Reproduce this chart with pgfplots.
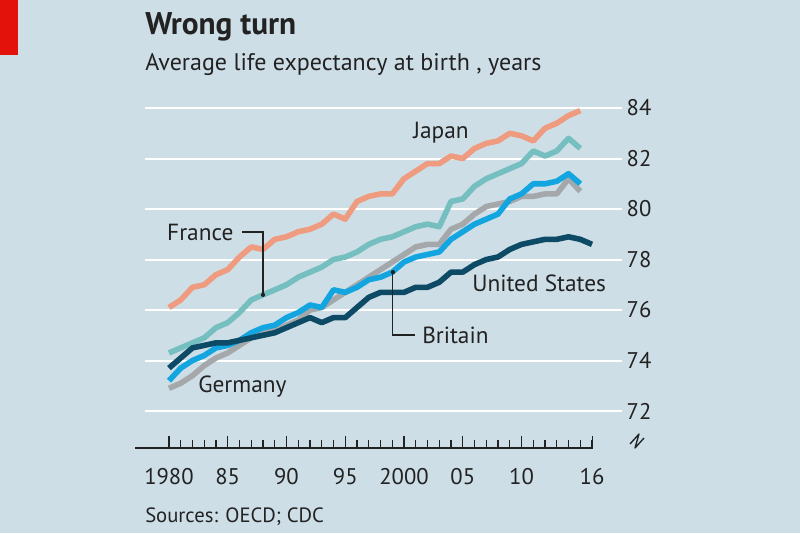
\documentclass[border=0pt]{standalone}
\usepackage{fontspec}
\setmainfont{PT Sans}
\usepackage{pgfplots}
\pgfplotsset{compat=1.18}
\usepackage{pgfplotstable}

\definecolor{bg}{HTML}{CEDEE7}
\definecolor{econred}{HTML}{E3120B}
\definecolor{japan}{HTML}{EE9B7F}
\definecolor{france}{HTML}{76BFC0}
\definecolor{germany}{HTML}{A5A8AB}
\definecolor{britain}{HTML}{12A5DF}
\definecolor{usa}{HTML}{0D4A66}
\definecolor{ink}{HTML}{222222}

% life expectancy at birth, years
\pgfplotstableread{
year japan france germany britain us
1980 76.1 74.3 72.9 73.2 73.7
1981 76.4 74.5 73.1 73.7 74.1
1982 76.9 74.7 73.4 74.0 74.5
1983 77.0 74.9 73.8 74.2 74.6
1984 77.4 75.3 74.1 74.5 74.7
1985 77.6 75.5 74.3 74.6 74.7
1986 78.1 75.9 74.6 74.8 74.8
1987 78.5 76.4 74.9 75.1 74.9
1988 78.4 76.6 75.1 75.3 75.0
1989 78.8 76.8 75.2 75.4 75.1
1990 78.9 77.0 75.4 75.7 75.3
1991 79.1 77.3 75.6 75.9 75.5
1992 79.2 77.5 76.0 76.2 75.7
1993 79.4 77.7 76.1 76.1 75.5
1994 79.8 78.0 76.4 76.8 75.7
1995 79.6 78.1 76.7 76.7 75.7
1996 80.3 78.3 77.0 76.9 76.1
1997 80.5 78.6 77.3 77.2 76.5
1998 80.6 78.8 77.6 77.3 76.7
1999 80.6 78.9 77.9 77.5 76.7
2000 81.2 79.1 78.2 77.9 76.7
2001 81.5 79.3 78.5 78.1 76.9
2002 81.8 79.4 78.6 78.2 76.9
2003 81.8 79.3 78.6 78.3 77.1
2004 82.1 80.3 79.2 78.8 77.5
2005 82.0 80.4 79.4 79.1 77.5
2006 82.4 80.9 79.8 79.4 77.8
2007 82.6 81.2 80.1 79.6 78.0
2008 82.7 81.4 80.2 79.8 78.1
2009 83.0 81.6 80.3 80.4 78.4
2010 82.9 81.8 80.5 80.6 78.6
2011 82.7 82.3 80.5 81.0 78.7
2012 83.2 82.1 80.6 81.0 78.8
2013 83.4 82.3 80.6 81.1 78.8
2014 83.7 82.8 81.2 81.4 78.9
2015 83.9 82.4 80.7 81.0 78.8
2016 nan nan nan nan 78.6
}\lifeexp

\begin{document}
\begin{tikzpicture}
\useasboundingbox (0,0) rectangle (600pt,399.75pt);
\fill[bg] (0,0) rectangle (600pt,399.75pt);

% pixel grid of the 800x533 reference
\begin{scope}[x=0.75pt,y=-0.75pt,shift={(0,399.75pt)}]
  \fill[econred] (0,0) rectangle (18,55);
  \node[anchor=base west, inner sep=0, text=ink, font=\bfseries\fontsize{23.5}{28}\selectfont] at (145,35) {Wrong turn};
  \node[anchor=base west, inner sep=0, text=ink, font=\fontsize{18}{22}\selectfont] at (145,71) {Average life expectancy at birth , years};
  \node[anchor=base west, inner sep=0, text=ink, font=\fontsize{15.5}{19}\selectfont] at (145,522) {Sources: OECD; CDC};
  \draw[ink, line width=1pt, line join=round] (630,444) -- (639,434) -- (635,448) -- (644,438);
\end{scope}

\begin{axis}[
  at={(108.75pt,63.75pt)}, anchor=south west,
  scale only axis, width=357.75pt, height=258.75pt,
  xmin=1977.96, xmax=2018.55, ymin=70.535, ymax=84.2,
  axis line style={draw=none},
  clip=false,
  ytick={72,74,...,84}, yticklabel pos=right, ytick style={draw=none},
  ymajorgrids, major grid style={white, line width=1.5pt},
  xtick={1980,1985,1990,1995,2000,2005,2010,2016},
  xticklabels={1980,85,90,95,2000,05,10,16},
  minor xtick={1980,...,2016},
  xtick pos=left, tick align=inside,
  major tick length=8.75pt, minor tick length=5.75pt,
  every tick/.style={ink, line width=0.8pt},
  tick label style={font=\fontsize{17}{20}\selectfont, text=ink},
  x tick label style={yshift=-12pt},
  /pgf/number format/assume math mode=true,
  every axis plot/.append style={line width=4.2pt, line join=round},
]
\draw[ink, line width=1pt] (axis cs:1977.11,70.535) -- (axis cs:2016.09,70.535);

\addplot[germany] table[x=year, y=germany] {\lifeexp};
\addplot[britain] table[x=year, y=britain] {\lifeexp};
\addplot[france]  table[x=year, y=france]  {\lifeexp};
\addplot[japan]   table[x=year, y=japan]   {\lifeexp};
\addplot[usa]     table[x=year, y=us]      {\lifeexp};

% labels and leaders
\begin{scope}[every node/.style={anchor=west, inner sep=0, text=ink, font=\fontsize{17.5}{21}\selectfont}]
  \node at (axis cs:2000.77,83.01) {Japan};
  \node at (axis cs:1979.83,79.09) {France};
  \node at (axis cs:2005.79,77.07) {United States};
  \node at (axis cs:2001.53,75.01) {Britain};
  \node at (axis cs:1982.47,72.95) {Germany};
\end{scope}
\draw[ink, line width=0.8pt] (axis cs:1986.2,79.09) -| (axis cs:1988,76.6);
\fill[ink] (axis cs:1988,76.6) circle (1.6pt);
\draw[ink, line width=0.8pt] (axis cs:1999.06,77.5) |- (axis cs:2000.94,75.01);
\fill[ink] (axis cs:1999.06,77.5) circle (1.6pt);
\end{axis}
\end{tikzpicture}
\end{document}
